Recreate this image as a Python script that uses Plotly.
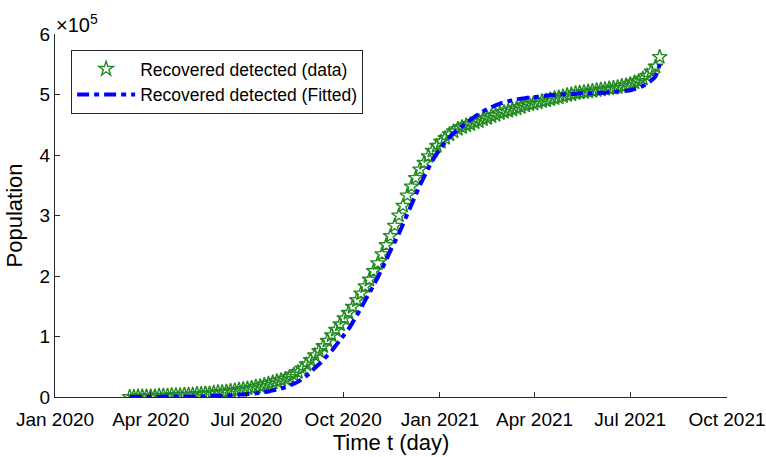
import pandas as pd
import plotly.graph_objects as go

# Sampling dates (every 4 days) for the observed and fitted series
dates = pd.date_range("2020-03-12", periods=127, freq="4D")

# Recovered detected, observed (units of 1e5 people)
recovered_data = [
    0.00, 0.00, 0.01, 0.01, 0.01, 0.01, 0.01, 0.02, 0.02, 0.02,
    0.03, 0.03, 0.03, 0.04, 0.04, 0.04, 0.05, 0.05, 0.06, 0.06,
    0.07, 0.08, 0.08, 0.09, 0.10, 0.11, 0.12, 0.13, 0.14, 0.15,
    0.17, 0.18, 0.20, 0.22, 0.24, 0.26, 0.28, 0.30, 0.33, 0.37,
    0.41, 0.47, 0.54, 0.61, 0.69, 0.76, 0.84, 0.93, 1.02, 1.11,
    1.20, 1.30, 1.39, 1.49, 1.60, 1.71, 1.83, 1.94, 2.08, 2.21,
    2.36, 2.51, 2.66, 2.83, 3.00, 3.16, 3.33, 3.48, 3.62, 3.76,
    3.87, 3.98, 4.07, 4.15, 4.22, 4.28, 4.34, 4.39, 4.43, 4.46,
    4.49, 4.51, 4.54, 4.56, 4.59, 4.61, 4.64, 4.66, 4.69, 4.71,
    4.73, 4.75, 4.77, 4.79, 4.82, 4.84, 4.85, 4.87, 4.89, 4.90,
    4.92, 4.94, 4.95, 4.97, 4.99, 5.00, 5.02, 5.03, 5.04, 5.05,
    5.06, 5.07, 5.08, 5.09, 5.10, 5.11, 5.12, 5.14, 5.15, 5.17,
    5.20, 5.22, 5.26, 5.31, 5.38, 5.46, 5.62,
]

# Recovered detected, model fit (units of 1e5 people)
recovered_fit = [
    0.00, 0.00, 0.00, 0.00, 0.00, 0.00, 0.00, 0.00, 0.01, 0.01,
    0.01, 0.01, 0.01, 0.01, 0.01, 0.01, 0.01, 0.01, 0.01, 0.02,
    0.02, 0.02, 0.02, 0.03, 0.03, 0.03, 0.04, 0.04, 0.05, 0.05,
    0.06, 0.07, 0.08, 0.09, 0.11, 0.12, 0.14, 0.16, 0.19, 0.22,
    0.25, 0.30, 0.35, 0.41, 0.48, 0.54, 0.61, 0.69, 0.76, 0.85,
    0.94, 1.03, 1.12, 1.23, 1.35, 1.47, 1.60, 1.72, 1.85, 1.98,
    2.12, 2.27, 2.42, 2.56, 2.70, 2.86, 3.02, 3.18, 3.34, 3.50,
    3.64, 3.78, 3.91, 4.02, 4.12, 4.21, 4.29, 4.36, 4.42, 4.47,
    4.53, 4.58, 4.63, 4.68, 4.72, 4.76, 4.79, 4.82, 4.85, 4.87,
    4.89, 4.90, 4.92, 4.93, 4.94, 4.95, 4.96, 4.96, 4.97, 4.98,
    4.99, 4.99, 5.00, 5.00, 5.01, 5.01, 5.01, 5.02, 5.02, 5.02,
    5.02, 5.03, 5.03, 5.03, 5.04, 5.04, 5.05, 5.05, 5.06, 5.07,
    5.09, 5.11, 5.14, 5.18, 5.23, 5.30, 5.50,
]

x_tick_vals = ["2020-01-01", "2020-04-01", "2020-07-01", "2020-10-01",
               "2021-01-01", "2021-04-01", "2021-07-01", "2021-10-01"]
x_tick_text = ["Jan 2020", "Apr 2020", "Jul 2020", "Oct 2020",
               "Jan 2021", "Apr 2021", "Jul 2021", "Oct 2021"]
y_tick_vals = [0, 1, 2, 3, 4, 5, 6]

FONT = "Liberation Sans, Arial, Helvetica, sans-serif"
AXIS_COLOR = "#262626"

fig = go.Figure()

fig.add_trace(go.Scatter(
    x=dates, y=recovered_data, mode="markers",
    name="Recovered detected (data)",
    marker=dict(symbol="star-open", size=11, color="#228B22",
                line=dict(color="#228B22", width=1.4)),
))

fig.add_trace(go.Scatter(
    x=dates, y=recovered_fit, mode="lines",
    name="Recovered detected (Fitted)",
    line=dict(color="#0000FF", width=4, dash="12px,5px,5px,5px",
              shape="spline", smoothing=0.6),
))

fig.update_layout(
    width=766, height=457,
    margin=dict(l=55, r=39, t=34, b=60),
    paper_bgcolor="white", plot_bgcolor="white",
    font=dict(family=FONT, size=19, color="black"),
    showlegend=True,
    legend=dict(
        x=0.024, y=0.956, xanchor="left", yanchor="top",
        bgcolor="white", bordercolor=AXIS_COLOR, borderwidth=1,
        font=dict(family=FONT, size=17.5, color="black"),
        itemwidth=58, tracegroupgap=0,
    ),
    xaxis=dict(
        type="date",
        range=["2020-01-01", "2021-10-01"],
        tickvals=x_tick_vals, ticktext=x_tick_text,
        tickfont=dict(size=19),
        ticks="inside", ticklen=5, tickwidth=1, tickcolor=AXIS_COLOR,
        ticklabelstandoff=5,
        showline=True, linecolor=AXIS_COLOR, linewidth=1,
        showgrid=False, zeroline=False, automargin=False,
        title=dict(text="Time t (day)", font=dict(size=22), standoff=4),
    ),
    yaxis=dict(
        range=[0, 6],
        tickvals=y_tick_vals,
        tickfont=dict(size=19),
        ticks="inside", ticklen=5, tickwidth=1, tickcolor=AXIS_COLOR,
        showline=True, linecolor=AXIS_COLOR, linewidth=1,
        showgrid=False, zeroline=False, automargin=False,
        title=dict(text="Population", font=dict(size=22), standoff=10),
    ),
    annotations=[dict(
        text="×10<sup>5</sup>", xref="paper", yref="paper",
        x=0.0, y=1.0, xanchor="left", yanchor="bottom",
        showarrow=False, font=dict(size=20, color="black"),
        xshift=-1, yshift=-4,
    )],
)

fig.write_html("out.html")
